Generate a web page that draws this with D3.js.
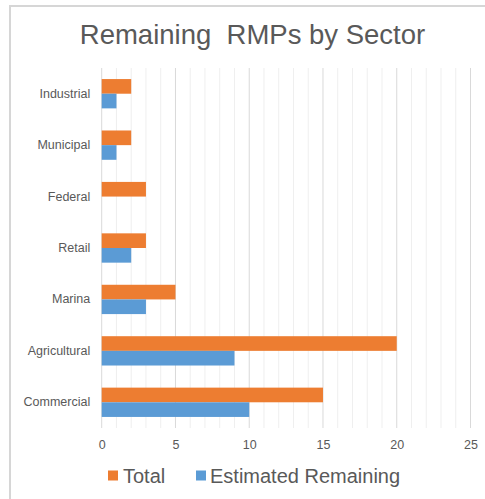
<!DOCTYPE html>
<html>
<head>
<meta charset="utf-8">
<script src="https://cdn.jsdelivr.net/npm/d3@7"></script>
<style>
  body { margin: 0; background: #fff; }
  text { font-family: "Liberation Sans", Arial, sans-serif; }
</style>
</head>
<body>
<div id="chart"></div>
<script>
// data
var sectors = ["Industrial", "Municipal", "Federal", "Retail", "Marina", "Agricultural", "Commercial"];
var totalValues = [2, 2, 3, 3, 5, 20, 15];
var remainingValues = [1, 1, 0, 2, 3, 9, 10];
var seriesNames = ["Total", "Estimated Remaining"];
var seriesColors = ["#ED7D31", "#5B9BD5"];
var xTicks = [0, 5, 10, 15, 20, 25];

var width = 485, height = 499;
var plotLeft = 101.7, plotRight = 470.5, plotTop = 68, plotBottom = 428;

var svg = d3.select("#chart").append("svg")
    .attr("width", width)
    .attr("height", height);

// outer frame
svg.append("rect")
    .attr("x", 10).attr("y", 6)
    .attr("width", 520).attr("height", 520)
    .attr("fill", "none")
    .attr("stroke", "#d6d6d6")
    .attr("stroke-width", 2);

svg.append("text")
    .attr("x", 252.5).attr("y", 43.5)
    .attr("text-anchor", "middle")
    .style("font-size", "27.5px")
    .style("fill", "#595959")
    .style("white-space", "pre")
    .text("Remaining  RMPs by Sector");

var x = d3.scaleLinear().domain([0, 25]).range([plotLeft, plotRight]);
var y = d3.scaleBand().domain(sectors).range([plotTop, plotBottom])
    .paddingInner(0.43).paddingOuter(0.215);
var ySub = d3.scaleBand().domain(seriesNames).range([0, y.bandwidth()]);

// gridlines, minor every 1, major every 5
var grid = svg.append("g");
grid.selectAll("line")
    .data(d3.range(0, 26))
    .enter().append("line")
    .attr("x1", function(d){ return x(d); })
    .attr("x2", function(d){ return x(d); })
    .attr("y1", plotTop).attr("y2", plotBottom)
    .attr("stroke", function(d){ return d % 5 == 0 ? "#d9d9d9" : "#efefef"; })
    .attr("stroke-width", 1);

var rows = svg.append("g").selectAll("g")
    .data(sectors)
    .enter().append("g")
    .attr("transform", function(d){ return "translate(0," + y(d) + ")"; });

rows.append("rect")
    .attr("x", x(0))
    .attr("y", ySub("Total"))
    .attr("height", ySub.bandwidth())
    .attr("width", function(d, i){ return x(totalValues[i]) - x(0); })
    .attr("fill", seriesColors[0]);

rows.append("rect")
    .attr("x", x(0))
    .attr("y", ySub("Estimated Remaining"))
    .attr("height", ySub.bandwidth())
    .attr("width", function(d, i){ return x(remainingValues[i]) - x(0); })
    .attr("fill", seriesColors[1]);

var xAxis = svg.append("g")
    .attr("transform", "translate(0," + 440 + ")")
    .call(d3.axisBottom(x).tickValues(xTicks).tickSize(0).tickPadding(0));
xAxis.select(".domain").remove();
xAxis.selectAll("text")
    .attr("dy", "0.71em")
    .style("font-size", "12.5px")
    .style("font-family", "'Liberation Sans', Arial, sans-serif")
    .style("fill", "#595959");

var yAxis = svg.append("g")
    .attr("transform", "translate(" + plotLeft + ",0)")
    .call(d3.axisLeft(y).tickSize(0).tickPadding(11.5));
yAxis.select(".domain").remove();
yAxis.selectAll("text")
    .style("font-size", "12.5px")
    .style("font-family", "'Liberation Sans', Arial, sans-serif")
    .style("fill", "#595959");

// legend
var legend = svg.append("g");
var legendX = [108, 196];
var legendTextX = [123, 210];
legend.selectAll("rect")
    .data(seriesNames)
    .enter().append("rect")
    .attr("x", function(d, i){ return legendX[i]; })
    .attr("y", 470.5)
    .attr("width", 10).attr("height", 10)
    .attr("fill", function(d, i){ return seriesColors[i]; });
legend.selectAll("text")
    .data(seriesNames)
    .enter().append("text")
    .attr("x", function(d, i){ return legendTextX[i]; })
    .attr("y", 483.3)
    .style("font-size", "20px")
    .style("fill", "#595959")
    .text(function(d){ return d; });
</script>
</body>
</html>
